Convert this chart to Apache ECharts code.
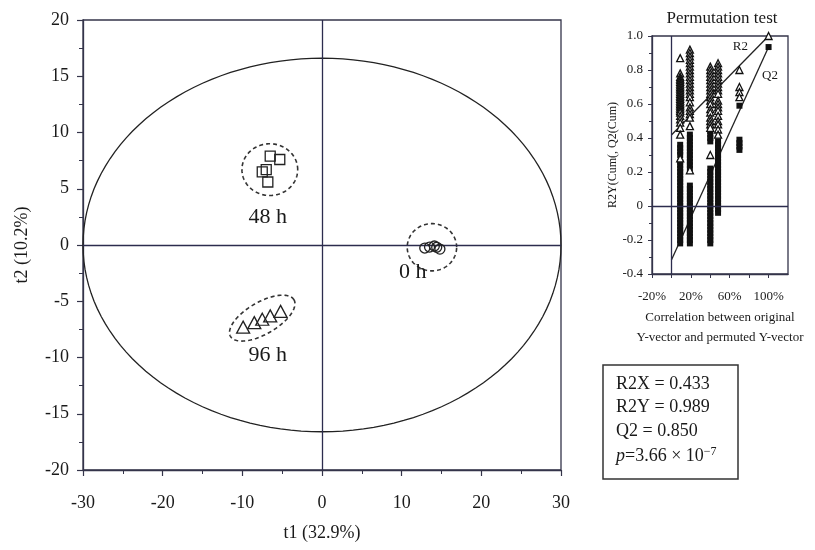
<!DOCTYPE html>
<html><head><meta charset="utf-8">
<script src="https://cdn.jsdelivr.net/npm/echarts@6/dist/echarts.min.js"></script>
<style>html,body{margin:0;padding:0;background:#fff}#c{width:815px;height:550px}</style>
</head><body><div id="c"></div>
<script>
// ---------- Score plot data ----------
const xTicks = [-30, -20, -10, 0, 10, 20, 30];
const yTicks = [-20, -15, -10, -5, 0, 5, 10, 15, 20];
const group48h = [[-6.5, 7.9], [-5.3, 7.6], [-7.5, 6.5], [-7.0, 6.7], [-6.8, 5.6]];
const group0h = [[12.9, -0.27], [13.5, -0.18], [14.1, -0.09], [14.4, -0.2], [14.8, -0.36]];
const group96h = [[-9.9, -7.3], [-8.5, -6.9], [-7.5, -6.6], [-6.5, -6.3], [-5.2, -5.9]];
const groupNames = ['48 h', '0 h', '96 h'];
const groupLabelPos = [[-6.8, 2.5], [11.4, -2.4], [-6.8, -9.8]];
// ellipses: Hotelling T2 (solid) + group ellipses (dashed)
const ellipseCenters = [[0, 0], [-6.55, 6.7], [13.8, -0.2], [-7.5, -6.5]];
const ellipseRadiusX = [30, 3.5, 3.1, 4.6];
const ellipseRadiusY = [16.6, 2.3, 2.1, 1.42];
const ellipseAngle = [0, 0, 0, 30];
const ellipseDashed = [false, true, true, true];

// ---------- Permutation test data ----------
const permX = [0.09, 0.19, 0.40, 0.48, 0.70];
const r2Cols = [
  [0.87,0.78,0.76,0.75,0.74,0.73,0.72,0.71,0.70,0.69,0.68,0.67,0.66,0.65,0.64,0.63,0.62,0.61,0.60,0.59,0.58,0.57,0.56,0.55,0.53,0.51,0.49,0.46,0.42,0.28],
  [0.92,0.90,0.88,0.86,0.84,0.82,0.80,0.78,0.76,0.74,0.72,0.70,0.68,0.66,0.64,0.61,0.58,0.56,0.54,0.52,0.47,0.21],
  [0.82,0.80,0.78,0.76,0.74,0.72,0.70,0.68,0.66,0.64,0.62,0.60,0.57,0.55,0.52,0.50,0.48,0.46,0.30],
  [0.84,0.82,0.80,0.78,0.76,0.74,0.72,0.70,0.68,0.66,0.62,0.60,0.58,0.56,0.53,0.50,0.48,0.45,0.42],
  [0.80,0.70,0.67,0.64]
];
const q2Cols = [
  [0.36,0.34,0.32,0.30,0.26,0.24,0.22,0.20,0.18,0.16,0.14,0.12,0.10,0.08,0.06,0.04,0.02,0.00,-0.02,-0.04,-0.06,-0.08,-0.10,-0.12,-0.14,-0.16,-0.18,-0.20,-0.22],
  [0.42,0.40,0.38,0.36,0.34,0.32,0.30,0.28,0.26,0.24,0.22,0.12,0.10,0.08,0.06,0.04,0.02,0.00,-0.02,-0.04,-0.06,-0.08,-0.10,-0.12,-0.14,-0.16,-0.18,-0.20,-0.22],
  [0.44,0.42,0.40,0.38,0.22,0.20,0.18,0.16,0.14,0.12,0.10,0.08,0.06,0.04,0.02,0.00,-0.02,-0.04,-0.06,-0.08,-0.10,-0.12,-0.14,-0.16,-0.18,-0.20,-0.22],
  [0.38,0.36,0.34,0.32,0.30,0.28,0.26,0.24,0.22,0.20,0.18,0.16,0.14,0.12,0.10,0.08,0.06,0.04,0.02,0.00,-0.02,-0.04],
  [0.59,0.39,0.37,0.35,0.33]
];
const r2Original = [1.0, 1.0];
const q2Original = [1.0, 0.935];
const r2Line = [[0, 0.418], [1.0, 1.0]];
const q2Line = [[0, -0.318], [1.0, 0.935]];
const permXLabels = [-0.2, 0.2, 0.6, 1.0];
const statLines = ['R2X = 0.433', 'R2Y = 0.989', 'Q2 = 0.850'];
const pValue = '3.66';
const pExp = '−7';

// ---------- build ----------
const SERIF = '"Liberation Serif","DejaVu Serif","Times New Roman",serif';
const INK = '#1a1a1a';
const AXIS = '#34344a';

const r2Data = [];
const q2Data = [];
permX.forEach((x, i) => {
  r2Cols[i].forEach(v => r2Data.push([x, v]));
  q2Cols[i].forEach(v => q2Data.push([x, v]));
});
r2Data.push(r2Original);
q2Data.push(q2Original);

function ellipseRender(params, api) {
  const i = api.value(2);
  const c = api.coord([api.value(0), api.value(1)]);
  const sx = api.size([1, 0])[0];
  const sy = api.size([0, 1])[1];
  const a = ellipseRadiusX[i] * sx, b = ellipseRadiusY[i] * sy;
  const th = ellipseAngle[i] * Math.PI / 180;
  const pts = [];
  for (let k = 0; k < 144; k++) {
    const t = k / 144 * Math.PI * 2;
    const ex = a * Math.cos(t), ey = b * Math.sin(t);
    pts.push([c[0] + ex * Math.cos(th) - ey * Math.sin(th), c[1] - (ex * Math.sin(th) + ey * Math.cos(th))]);
  }
  return {
    type: 'polygon',
    shape: { points: pts },
    style: { fill: 'none', stroke: ellipseDashed[i] ? '#333' : '#222', lineWidth: ellipseDashed[i] ? 1.6 : 1.3, lineDash: ellipseDashed[i] ? [4, 3] : null },
    silent: true
  };
}

const chart = echarts.init(document.getElementById('c'), null, { renderer: 'canvas' });
const mainAxisCommon = {
  axisLine: { show: true, onZero: false, lineStyle: { color: AXIS, width: 1.3 } },
  axisTick: { show: true, inside: false, length: 6, lineStyle: { color: AXIS, width: 1.2 } },
  minorTick: { show: true, splitNumber: 2, length: 4, lineStyle: { color: AXIS, width: 1 } },
  splitLine: { show: false },
  axisLabel: { fontFamily: SERIF, fontSize: 18, color: INK }
};
const insetAxisCommon = {
  axisLine: { show: true, onZero: false, lineStyle: { color: AXIS, width: 1.3 } },
  axisTick: { show: true, inside: false, length: 4, lineStyle: { color: AXIS, width: 1 } },
  splitLine: { show: false },
  axisLabel: { fontFamily: SERIF, fontSize: 13, color: INK }
};

chart.setOption({
  animation: false,
  backgroundColor: '#fff',
  title: {
    text: 'Permutation test', left: 717, top: 5, textAlign: 'center',
    textStyle: { fontFamily: SERIF, fontSize: 17, fontWeight: 'normal', color: INK }
  },
  grid: [
    { left: 83, top: 20, width: 478, height: 450, show: true, borderColor: AXIS, borderWidth: 1.3, backgroundColor: 'transparent' },
    { left: 652, top: 36, width: 136, height: 238, show: true, borderColor: AXIS, borderWidth: 1.3, backgroundColor: 'transparent' }
  ],
  xAxis: [
    Object.assign({}, mainAxisCommon, {
      gridIndex: 0, type: 'value', min: xTicks[0], max: xTicks[xTicks.length - 1], interval: 10,
      name: 't1 (32.9%)', nameLocation: 'middle', nameGap: 54,
      nameTextStyle: { fontFamily: SERIF, fontSize: 18, color: INK },
      axisLabel: Object.assign({}, mainAxisCommon.axisLabel, { margin: 24 })
    }),
    Object.assign({}, insetAxisCommon, {
      gridIndex: 1, type: 'value', min: -0.2, max: 1.2, interval: 0.2,
      name: 'Correlation between original\nY-vector and permuted Y-vector', nameLocation: 'middle', nameGap: 34,
      nameTextStyle: { fontFamily: SERIF, fontSize: 13, color: INK, lineHeight: 20 },
      axisLabel: Object.assign({}, insetAxisCommon.axisLabel, {
        margin: 16, showMaxLabel: false,
        formatter: v => {
          const p = Math.round(v * 100);
          return permXLabels.some(l => Math.round(l * 100) === p) ? p + '%' : '';
        }
      })
    })
  ],
  yAxis: [
    Object.assign({}, mainAxisCommon, {
      gridIndex: 0, type: 'value', min: yTicks[0], max: yTicks[yTicks.length - 1], interval: 5,
      name: 't2 (10.2%)', nameLocation: 'middle', nameGap: 52,
      nameTextStyle: { fontFamily: SERIF, fontSize: 18, color: INK },
      axisLabel: Object.assign({}, mainAxisCommon.axisLabel, { margin: 14 })
    }),
    Object.assign({}, insetAxisCommon, {
      gridIndex: 1, type: 'value', min: -0.4, max: 1.0, interval: 0.2,
      minorTick: { show: true, splitNumber: 2, length: 3, lineStyle: { color: AXIS, width: 1 } },
      name: 'R2Y(Cum(, Q2(Cum)', nameLocation: 'middle', nameGap: 32,
      nameTextStyle: { fontFamily: SERIF, fontSize: 12, color: INK },
      axisLabel: Object.assign({}, insetAxisCommon.axisLabel, {
        margin: 9,
        formatter: v => Math.abs(v) < 1e-9 ? '0' : v.toFixed(1)
      })
    })
  ],
  series: [
    {
      type: 'custom', xAxisIndex: 0, yAxisIndex: 0, renderItem: ellipseRender, silent: true,
      data: ellipseCenters.map((c, i) => [c[0], c[1], i]), encode: { x: 0, y: 1 }, z: 2,
      markLine: {
        silent: true, symbol: 'none', label: { show: false },
        lineStyle: { type: 'solid', color: '#2c2c4e', width: 1.3 },
        data: [{ xAxis: 0 }, { yAxis: 0 }]
      }
    },
    {
      type: 'scatter', xAxisIndex: 0, yAxisIndex: 0, data: group48h, symbol: 'rect', symbolSize: 10,
      itemStyle: { color: 'rgba(255,255,255,0)', borderColor: '#222', borderWidth: 1.3, opacity: 1 }, z: 5
    },
    {
      type: 'scatter', xAxisIndex: 0, yAxisIndex: 0, data: group0h, symbol: 'circle', symbolSize: 10,
      itemStyle: { color: 'rgba(255,255,255,0)', borderColor: '#222', borderWidth: 1.3, opacity: 1 }, z: 5
    },
    {
      type: 'scatter', xAxisIndex: 0, yAxisIndex: 0, data: group96h, symbol: 'triangle', symbolSize: [13, 12],
      itemStyle: { color: 'rgba(255,255,255,0)', borderColor: '#222', borderWidth: 1.3, opacity: 1 }, z: 5
    },
    {
      type: 'scatter', xAxisIndex: 0, yAxisIndex: 0, symbolSize: 0, silent: true,
      itemStyle: { opacity: 1 },
      data: groupNames.map((n, i) => ({ name: n, value: groupLabelPos[i] })),
      label: { show: true, position: 'inside', formatter: p => p.name, fontFamily: SERIF, fontSize: 22, color: INK, opacity: 1 }
    },
    // inset
    {
      type: 'line', xAxisIndex: 1, yAxisIndex: 1, data: r2Line, symbol: 'none', silent: true,
      lineStyle: { color: '#222', width: 1.3 }, z: 3,
      markLine: {
        silent: true, symbol: 'none', label: { show: false },
        lineStyle: { type: 'solid', color: '#2c2c4e', width: 1.3 },
        data: [{ xAxis: 0 }, { yAxis: 0 }]
      }
    },
    {
      type: 'line', xAxisIndex: 1, yAxisIndex: 1, data: q2Line, symbol: 'none', silent: true,
      lineStyle: { color: '#222', width: 1.3 }, z: 3
    },
    {
      type: 'scatter', xAxisIndex: 1, yAxisIndex: 1, data: q2Data, symbol: 'rect', symbolSize: 6,
      itemStyle: { color: '#111', opacity: 1 }, z: 4
    },
    {
      type: 'scatter', xAxisIndex: 1, yAxisIndex: 1, data: r2Data, symbol: 'triangle', symbolSize: 7,
      itemStyle: { color: '#fff', borderColor: '#111', borderWidth: 1.3, opacity: 1 }, z: 5
    },
    {
      type: 'scatter', xAxisIndex: 1, yAxisIndex: 1, symbolSize: 0, silent: true,
      itemStyle: { opacity: 1 },
      data: [{ name: 'R2', value: [0.71, 0.935] }, { name: 'Q2', value: [1.015, 0.77] }],
      label: { show: true, position: 'inside', formatter: p => p.name, fontFamily: SERIF, fontSize: 13, color: INK }
    }
  ],
  graphic: [
    { type: 'rect', shape: { x: 603, y: 365, width: 135, height: 114 }, style: { fill: '#fff', stroke: '#333', lineWidth: 1.5 }, silent: true },
    ...statLines.map((t, i) => ({
      type: 'text', left: 616, top: 375 + i * 23.7, silent: true,
      style: { text: t, font: '18px ' + SERIF, fill: INK }
    })),
    {
      type: 'text', left: 616, top: 375 + 3 * 23.7, silent: true,
      style: {
        text: '{i|p}=' + pValue + ' × 10{s|' + pExp + '}',
        font: '18px ' + SERIF, fill: INK,
        rich: {
          i: { fontStyle: 'italic', fontFamily: SERIF, fontSize: 18, fill: INK },
          s: { fontFamily: SERIF, fontSize: 12, verticalAlign: 'top', padding: [0, 0, 8, 0], fill: INK }
        }
      }
    }
  ]
});
</script></body></html>
